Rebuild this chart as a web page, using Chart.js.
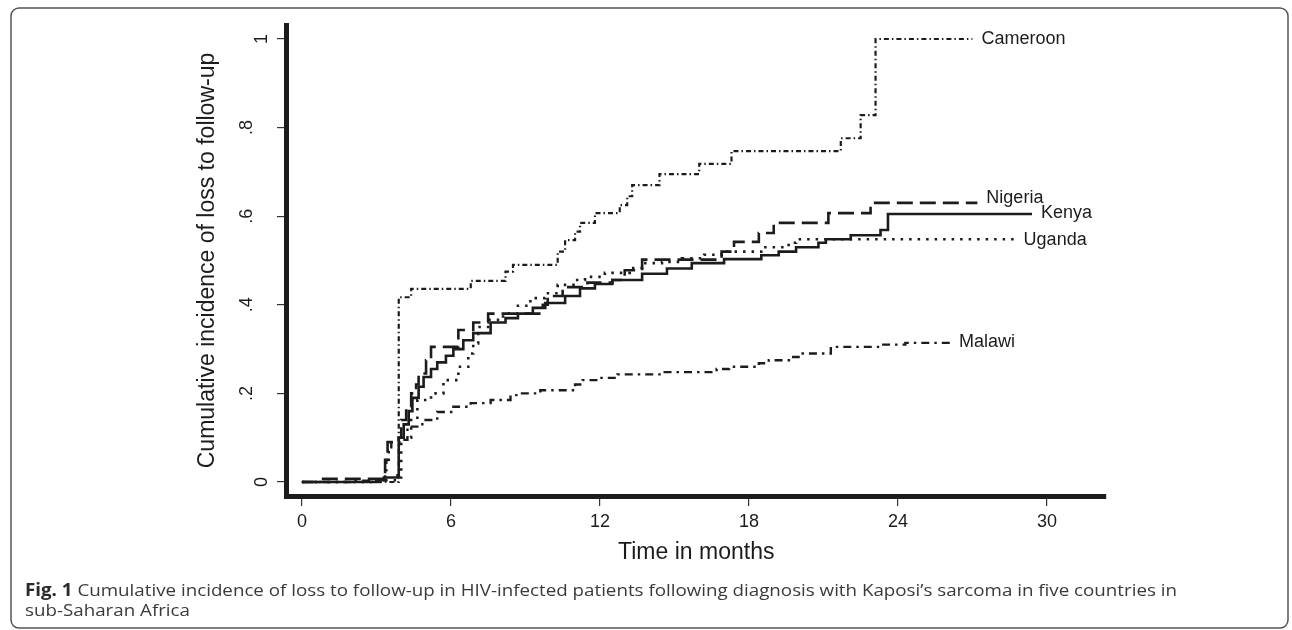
<!DOCTYPE html>
<html>
<head>
<meta charset="utf-8">
<script src="https://cdn.jsdelivr.net/npm/chart.js@4.4.1/dist/chart.umd.min.js"></script>
<style>
  html, body { margin: 0; padding: 0; background: #fff; }
  #wrap { width: 1292px; height: 630px; }
</style>
</head>
<body>
<div id="wrap"><canvas id="kmChart" width="1292" height="630"></canvas></div>
<script>
// tick values
var xTicks = [0, 6, 12, 18, 24, 30];
var yTicks = [0, 0.2, 0.4, 0.6, 0.8, 1];

var countries = ['Cameroon', 'Nigeria', 'Kenya', 'Uganda', 'Malawi'];

// step points: [months, cumulative incidence]
var cameroon = [[0, 0], [3.9, 0.417], [4.4, 0.436], [6.8, 0.454], [8.2, 0.475], [8.5, 0.49],
  [10.3, 0.52], [10.6, 0.546], [11.0, 0.565], [11.2, 0.585], [11.8, 0.607], [12.8, 0.625],
  [13.1, 0.645], [13.3, 0.67], [14.4, 0.695], [16.0, 0.718], [17.3, 0.747], [21.7, 0.776],
  [22.5, 0.828], [23.1, 1.0], [27.0, 1.0]];

var nigeria = [[0, 0], [0.6, 0.007], [3.3, 0.01], [3.35, 0.05], [3.45, 0.09], [3.9, 0.1],
  [4.0, 0.14], [4.2, 0.17], [4.4, 0.2], [4.6, 0.22], [4.7, 0.245], [5.0, 0.275], [5.2, 0.305],
  [6.3, 0.343], [6.9, 0.36], [7.5, 0.38], [9.7, 0.40], [9.9, 0.42], [10.5, 0.44], [11.5, 0.45],
  [12.5, 0.456], [13.0, 0.478], [13.7, 0.502], [16.9, 0.52], [17.4, 0.542], [18.4, 0.562],
  [19.0, 0.585], [21.2, 0.607], [22.9, 0.63], [27.2, 0.63]];

var kenya = [[0, 0], [3.0, 0.005], [3.3, 0.01], [3.85, 0.015], [3.9, 0.1], [4.1, 0.13],
  [4.3, 0.16], [4.45, 0.19], [4.7, 0.215], [4.9, 0.237], [5.2, 0.255], [5.45, 0.27],
  [5.8, 0.285], [6.1, 0.30], [6.5, 0.32], [6.9, 0.336], [7.6, 0.36], [8.2, 0.37], [8.7, 0.38],
  [9.3, 0.393], [9.8, 0.404], [10.6, 0.42], [11.2, 0.437], [11.8, 0.447], [12.5, 0.456],
  [13.7, 0.47], [14.7, 0.482], [15.7, 0.494], [17.0, 0.503], [18.5, 0.512], [19.2, 0.52],
  [19.9, 0.53], [20.8, 0.54], [21.1, 0.548], [22.1, 0.557], [23.3, 0.569], [23.6, 0.605],
  [29.4, 0.605]];

var uganda = [[0, 0], [3.4, 0.004], [3.9, 0.01], [4.0, 0.1], [4.4, 0.14], [4.65, 0.185],
  [5.2, 0.2], [5.7, 0.23], [6.3, 0.26], [6.7, 0.29], [6.9, 0.313], [7.1, 0.35], [7.5, 0.366],
  [8.1, 0.38], [8.7, 0.398], [9.2, 0.415], [9.8, 0.426], [10.3, 0.445], [11.0, 0.456],
  [11.4, 0.463], [12.2, 0.472], [13.2, 0.483], [13.7, 0.494], [14.5, 0.497], [15.3, 0.505],
  [16.2, 0.513], [16.9, 0.52], [18.5, 0.53], [19.6, 0.54], [19.9, 0.548], [28.7, 0.548]];

var malawi = [[0, 0], [2.0, 0.003], [3.35, 0.02], [3.4, 0.05], [3.5, 0.07], [3.6, 0.09],
  [4.0, 0.095], [4.25, 0.125], [4.85, 0.14], [5.45, 0.158], [6.1, 0.17], [6.8, 0.178],
  [7.6, 0.185], [8.4, 0.196], [8.7, 0.2], [9.6, 0.207], [11.0, 0.22], [11.3, 0.23],
  [12.0, 0.235], [12.7, 0.243], [14.5, 0.248], [16.7, 0.255], [17.2, 0.26], [18.4, 0.268],
  [18.8, 0.275], [19.7, 0.282], [20.0, 0.29], [21.3, 0.305], [23.2, 0.31], [24.3, 0.314],
  [26.1, 0.314]];

var seriesData = [cameroon, nigeria, kenya, uganda, malawi];
var dashes = [[5, 3, 1.5, 3], [16, 7], [], [2.5, 6], [8, 5, 2.5, 5]];
var widths = [2.2, 2.6, 2.6, 2.6, 2.4];
var labelDy = [0, -5, -1, 1, -1];

var ink = '#1c1c1c';
var chartFont = '"Liberation Sans", Arial, Helvetica, sans-serif';

function toPoints(arr) {
  return arr.map(function(p) { return { x: p[0], y: p[1] }; });
}

// 終點標籤 + 標題 + 圖框 + 說明文字
var decorPlugin = {
  id: 'decor',
  beforeDraw: function(chart) {
    var c = chart.ctx;
    c.save();
    c.fillStyle = '#fff';
    c.fillRect(0, 0, chart.width, chart.height);
    c.restore();
  },
  afterDraw: function(chart) {
    var c = chart.ctx;
    var area = chart.chartArea;
    var yScale = chart.scales.y;
    c.save();

    // y tick labels, turned like Stata's
    c.fillStyle = ink;
    c.font = '18px ' + chartFont;
    c.textAlign = 'center';
    c.textBaseline = 'middle';
    yTicks.forEach(function(v) {
      var txt = v === 0 ? '0' : (v === 1 ? '1' : String(v).replace(/^0/, ''));
      var py = yScale.getPixelForValue(v);
      var px = txt.charAt(0) === '.' ? 247 : 262;
      c.save();
      c.translate(px, py);
      c.rotate(-Math.PI / 2);
      c.fillText(txt, 0, 0);
      c.restore();
    });

    // axis titles
    c.font = '23px ' + chartFont;
    c.fillText('Time in months', (area.left + area.right) / 2, 553);
    c.save();
    c.translate(208, (area.top + area.bottom) / 2);
    c.rotate(-Math.PI / 2);
    c.fillText('Cumulative incidence of loss to follow-up', 0, 0);
    c.restore();

    // country names at line ends
    c.font = '18px ' + chartFont;
    c.textAlign = 'left';
    chart.data.datasets.forEach(function(ds, i) {
      var meta = chart.getDatasetMeta(i);
      var last = meta.data[meta.data.length - 1];
      c.fillText(ds.label, last.x + 9, last.y + labelDy[i]);
    });

    // rounded frame
    c.strokeStyle = '#555';
    c.lineWidth = 1.5;
    c.beginPath();
    c.roundRect(11, 8, 1277, 620, 8);
    c.stroke();

    // caption
    var bold = 'Fig. 1 ';
    var rest = 'Cumulative incidence of loss to follow-up in HIV-infected patients following diagnosis with Kaposi\u2019s sarcoma in five countries in';
    c.textBaseline = 'alphabetic';
    c.font = 'bold 17px "Open Sans", sans-serif';
    var wb = c.measureText(bold).width;
    c.font = '17px "Open Sans", sans-serif';
    var wr = c.measureText(rest).width;
    var sx = 1152 / (wb + wr);
    c.save();
    c.translate(25, 596);
    c.scale(sx, 1);
    c.fillStyle = '#2a2a2a';
    c.font = 'bold 17px "Open Sans", sans-serif';
    c.fillText(bold, 0, 0);
    c.fillStyle = '#3a3a3a';
    c.font = '17px "Open Sans", sans-serif';
    c.fillText(rest, wb, 0);
    c.fillText('sub-Saharan Africa', 0, 20);
    c.restore();

    c.restore();
  }
};

var ctx = document.getElementById('kmChart').getContext('2d');
var kmChart = new Chart(ctx, {
  type: 'line',
  data: {
    datasets: countries.map(function(name, i) {
      return {
        label: name,
        data: toPoints(seriesData[i]),
        stepped: 'before',
        borderColor: ink,
        borderWidth: widths[i],
        borderDash: dashes[i],
        borderCapStyle: 'butt',
        pointRadius: 0,
        fill: false
      };
    })
  },
  options: {
    responsive: false,
    animation: false,
    layout: { padding: { left: 0, top: 25, right: 186, bottom: 0 } },
    plugins: {
      legend: { display: false },
      tooltip: { enabled: false }
    },
    scales: {
      x: {
        type: 'linear',
        min: -0.62,
        max: 32.38,
        afterBuildTicks: function(scale) {
          scale.ticks = xTicks.map(function(v) { return { value: v }; });
        },
        afterFit: function(scale) { scale.height = 134; },
        ticks: {
          color: ink,
          font: { family: chartFont, size: 18 },
          padding: 5,
          maxRotation: 0
        },
        grid: { drawOnChartArea: false, drawTicks: true, tickLength: 10, tickColor: '#333', lineWidth: 1.2 },
        border: { display: true, width: 5, color: ink }
      },
      y: {
        type: 'linear',
        min: -0.0316,
        max: 1.0316,
        afterBuildTicks: function(scale) {
          scale.ticks = yTicks.map(function(v) { return { value: v }; });
        },
        afterFit: function(scale) { scale.width = 286.5; },
        ticks: { display: false },
        grid: { drawOnChartArea: false, drawTicks: true, tickLength: 9.5, tickColor: '#333', lineWidth: 1.2 },
        border: { display: true, width: 5, color: ink }
      }
    }
  },
  plugins: [decorPlugin]
});
</script>
</body>
</html>
